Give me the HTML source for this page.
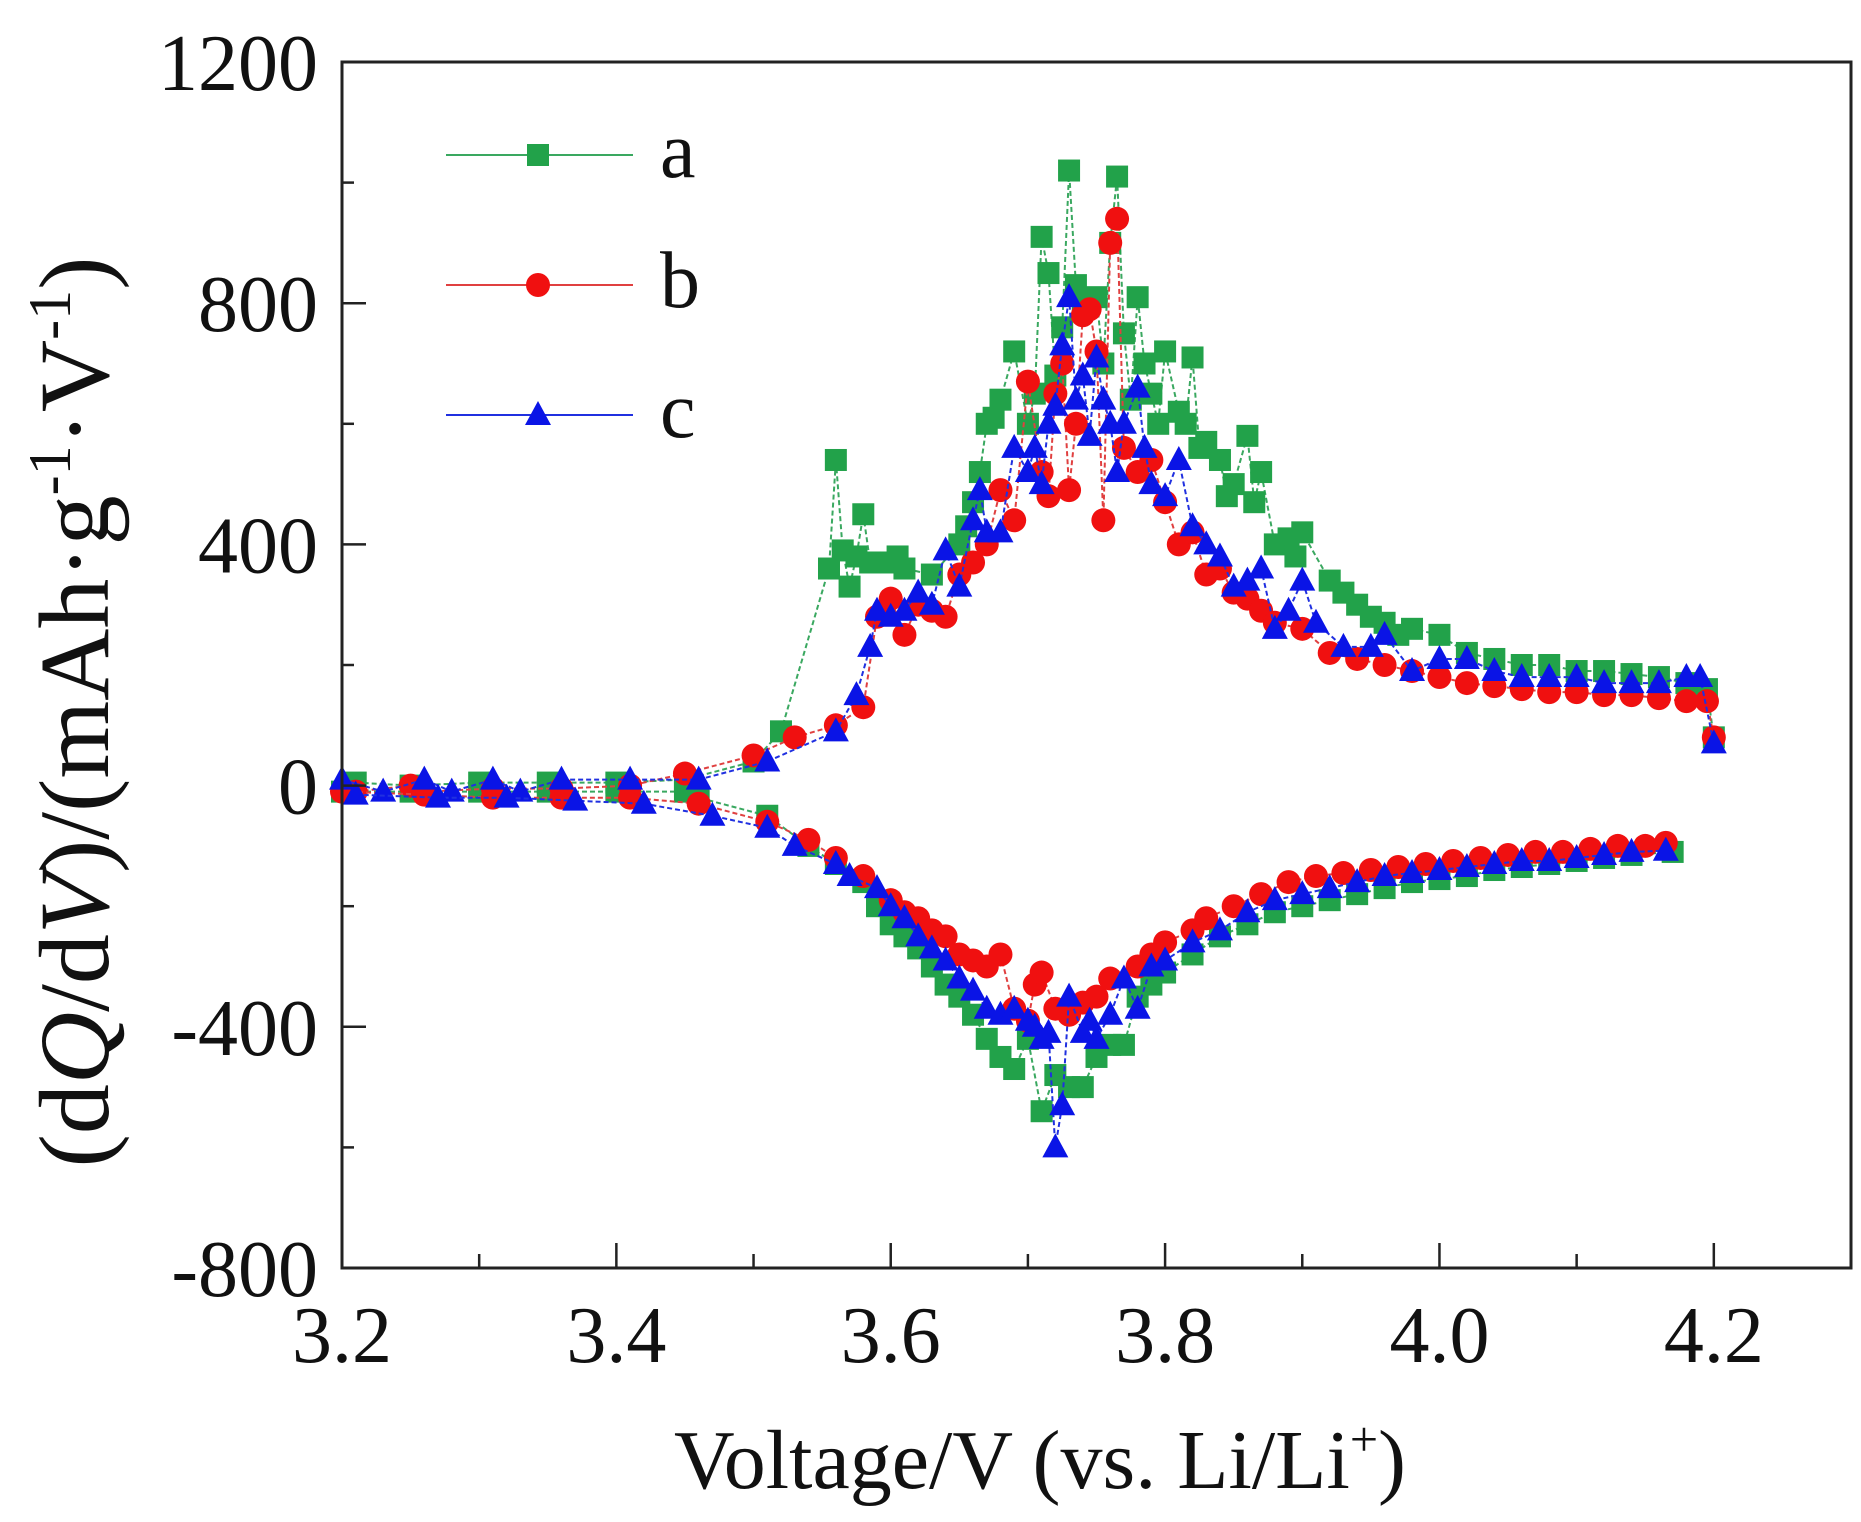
<!DOCTYPE html>
<html><head><meta charset="utf-8"><style>
html,body{margin:0;padding:0;background:#fff;}
svg{display:block;font-family:"Liberation Serif",serif;}
</style></head><body>
<svg id="chart" width="1861" height="1522" viewBox="0 0 1861 1522" xmlns="http://www.w3.org/2000/svg">
<g id="marks"></g>
<g id="axes"></g>
</svg>
<script>
// ---- data ----
const xTicks = [3.2, 3.4, 3.6, 3.8, 4.0, 4.2];
const xTickLabels = ["3.2", "3.4", "3.6", "3.8", "4.0", "4.2"];
const yTicks = [1200, 800, 400, 0, -400, -800];
const yTickLabels = ["1200", "800", "400", "0", "-400", "-800"];

const aChargeV = [3.21,3.25,3.3,3.35,3.4,3.45,3.5,3.52,3.555,3.56,3.565,3.57,3.575,3.58,3.585,3.6,3.605,3.61,3.63,3.65,3.655,3.66,3.665,3.67,3.675,3.68,3.69,3.70,3.705,3.71,3.715,3.72,3.725,3.73,3.735,3.74,3.75,3.755,3.76,3.765,3.77,3.775,3.78,3.785,3.79,3.795,3.80,3.81,3.815,3.82,3.825,3.83,3.84,3.845,3.85,3.86,3.865,3.87,3.88,3.89,3.895,3.90,3.92,3.93,3.94,3.95,3.96,3.97,3.98,4.0,4.02,4.04,4.06,4.08,4.10,4.12,4.14,4.16,4.18,4.195,4.2];
const aChargeQ = [5,0,5,5,5,10,40,90,360,540,390,330,380,450,370,370,380,360,350,400,430,470,520,600,610,640,720,600,650,910,850,680,760,1020,830,800,810,700,900,1010,750,640,810,700,650,600,720,620,600,710,560,570,540,480,500,580,470,520,400,410,380,420,340,320,300,280,270,250,260,250,220,210,200,200,190,190,185,180,170,160,80];

const bChargeV = [3.21,3.25,3.26,3.31,3.36,3.41,3.45,3.5,3.53,3.56,3.58,3.59,3.6,3.61,3.62,3.63,3.64,3.65,3.66,3.67,3.68,3.69,3.70,3.71,3.715,3.72,3.725,3.73,3.735,3.74,3.745,3.75,3.755,3.76,3.765,3.77,3.78,3.79,3.80,3.81,3.82,3.83,3.84,3.85,3.86,3.87,3.88,3.90,3.92,3.94,3.96,3.98,4.0,4.02,4.04,4.06,4.08,4.10,4.12,4.14,4.16,4.18,4.195,4.2];
const bChargeQ = [-10,0,-10,-5,-5,0,20,50,80,100,130,280,310,250,300,290,280,350,370,400,490,440,670,520,480,650,700,490,600,780,790,720,440,900,940,560,520,540,470,400,420,350,360,320,310,290,270,260,220,210,200,190,180,170,165,160,155,155,150,150,145,140,140,80];

const cChargeV = [3.2,3.23,3.26,3.28,3.31,3.33,3.36,3.41,3.46,3.51,3.56,3.575,3.585,3.59,3.6,3.61,3.62,3.63,3.64,3.65,3.66,3.665,3.67,3.68,3.69,3.70,3.705,3.71,3.715,3.72,3.725,3.73,3.735,3.74,3.745,3.75,3.755,3.76,3.765,3.77,3.78,3.785,3.79,3.80,3.81,3.82,3.83,3.84,3.85,3.86,3.87,3.88,3.89,3.90,3.91,3.93,3.95,3.96,3.98,4.0,4.02,4.04,4.06,4.08,4.10,4.12,4.14,4.16,4.18,4.19,4.2];
const cChargeQ = [10,-10,10,-10,10,-10,10,10,10,40,90,150,230,290,280,290,320,300,390,330,440,490,420,420,560,520,560,500,600,630,730,810,640,680,580,710,640,600,520,600,660,560,500,480,540,430,400,380,330,340,360,260,290,340,270,230,230,250,190,210,210,190,180,180,180,170,170,170,180,180,70];

const aDisV = [3.2,3.25,3.3,3.35,3.4,3.45,3.46,3.51,3.54,3.56,3.58,3.59,3.6,3.61,3.62,3.63,3.64,3.65,3.66,3.67,3.68,3.69,3.70,3.71,3.72,3.73,3.74,3.75,3.76,3.77,3.78,3.79,3.80,3.82,3.84,3.86,3.88,3.90,3.92,3.94,3.96,3.98,4.0,4.02,4.04,4.06,4.08,4.10,4.12,4.14,4.17];
const aDisQ = [-10,-10,-10,-10,-10,-10,-20,-50,-100,-130,-160,-200,-230,-250,-270,-300,-330,-350,-380,-420,-450,-470,-420,-540,-480,-500,-500,-450,-430,-430,-350,-330,-310,-280,-250,-230,-210,-200,-190,-180,-170,-160,-155,-150,-140,-135,-130,-125,-120,-115,-110];

const bDisV = [3.2,3.26,3.31,3.36,3.41,3.46,3.51,3.54,3.56,3.58,3.6,3.61,3.62,3.63,3.64,3.65,3.66,3.67,3.68,3.69,3.70,3.705,3.71,3.72,3.73,3.74,3.75,3.76,3.78,3.79,3.80,3.82,3.83,3.85,3.87,3.89,3.91,3.93,3.95,3.97,3.99,4.01,4.03,4.05,4.07,4.09,4.11,4.13,4.15,4.165];
const bDisQ = [-10,-15,-20,-20,-20,-30,-60,-90,-120,-150,-190,-210,-220,-240,-250,-280,-290,-300,-280,-370,-390,-330,-310,-370,-380,-360,-350,-320,-300,-280,-260,-240,-220,-200,-180,-160,-150,-145,-140,-135,-130,-125,-120,-115,-110,-110,-105,-100,-100,-95];

const cDisV = [3.21,3.27,3.32,3.37,3.42,3.47,3.51,3.53,3.56,3.57,3.59,3.60,3.61,3.62,3.63,3.64,3.65,3.66,3.67,3.68,3.69,3.70,3.705,3.71,3.715,3.72,3.725,3.73,3.74,3.745,3.75,3.76,3.77,3.78,3.79,3.80,3.82,3.84,3.86,3.88,3.90,3.92,3.94,3.96,3.98,4.0,4.02,4.04,4.06,4.08,4.10,4.12,4.14,4.165];
const cDisQ = [-15,-20,-20,-25,-30,-50,-70,-100,-130,-150,-170,-200,-220,-250,-270,-290,-320,-340,-370,-380,-370,-390,-400,-420,-410,-600,-530,-350,-410,-390,-420,-380,-320,-370,-300,-290,-260,-240,-210,-190,-180,-170,-160,-150,-145,-140,-135,-130,-125,-125,-120,-115,-110,-108];

const seriesNames = ["a", "b", "c"];

// ---- layout ----
const NS = "http://www.w3.org/2000/svg";
const L = 342, R = 1851, T = 62, B = 1268;
const X0 = 3.2, X1 = 4.3, Y0 = -800, Y1 = 1200;
function sx(v){ return L + (v - X0) / (X1 - X0) * (R - L); }
function sy(v){ return B - (v - Y0) / (Y1 - Y0) * (B - T); }
function mk(tag, attrs, parent){ const e = document.createElementNS(NS, tag); for (const k in attrs) e.setAttribute(k, attrs[k]); parent.appendChild(e); return e; }

const marks = document.getElementById('marks');
const axes = document.getElementById('axes');
const colors = {a:"#22a24a", b:"#f01010", c:"#0a14e6"};
const lineColors = {a:"#3aa860", b:"#e04040", c:"#2030e0"};

function marker(kind, x, y, parent){
  let e;
  if (kind === 'a') e = mk('rect', {x:x-11, y:y-11, width:22, height:22, fill:colors.a}, parent);
  else if (kind === 'b') e = mk('circle', {cx:x, cy:y, r:12, fill:colors.b}, parent);
  else e = mk('polygon', {points:`${x},${y-14} ${x-13},${y+10} ${x+13},${y+10}`, fill:colors.c}, parent);
  return e;
}

function drawSeries(kind, V, Q, label){
  const g = mk('g', {}, marks);
  
  
  const pts = V.map((v,i) => sx(v).toFixed(1) + ',' + sy(Q[i]).toFixed(1)).join(' ');
  const pl = mk('polyline', {points:pts, fill:'none', stroke:lineColors[kind], 'stroke-width':2, 'stroke-dasharray':'5,3'}, g);
  
  
  V.forEach((v,i) => {
    const m = marker(kind, sx(v), sy(Q[i]), g);
    
    
  });
}
drawSeries('a', aChargeV, aChargeQ, 'charge');
drawSeries('a', aDisV, aDisQ, 'discharge');
drawSeries('b', bChargeV, bChargeQ, 'charge');
drawSeries('b', bDisV, bDisQ, 'discharge');
drawSeries('c', cChargeV, cChargeQ, 'charge');
drawSeries('c', cDisV, cDisQ, 'discharge');

// frame
const frame = mk('rect', {x:L, y:T, width:R-L, height:B-T, fill:'none', stroke:'#222', 'stroke-width':3}, axes);



// x ticks
for (let v = 3.3; v < 4.3; v += 0.2) {
  const t = mk('line', {x1:sx(v), x2:sx(v), y1:B, y2:B-14, stroke:'#222', 'stroke-width':2.5}, axes);
  
  
}
xTicks.forEach((v,i) => {
  const t = mk('line', {x1:sx(v), x2:sx(v), y1:B, y2:B-25, stroke:'#222', 'stroke-width':2.5}, axes);
  
  
  const tx = mk('text', {x:sx(v), y:1362, 'text-anchor':'middle', 'font-size':80, fill:'#111'}, axes);
  tx.textContent = xTickLabels[i];
  
  
});
// y ticks
for (let v = -600; v < 1200; v += 400) {
  const t = mk('line', {x1:L, x2:L+12, y1:sy(v), y2:sy(v), stroke:'#222', 'stroke-width':2.5}, axes);
  
  
}
yTicks.forEach((v,i) => {
  const t = mk('line', {x1:L, x2:L+24, y1:sy(v), y2:sy(v), stroke:'#222', 'stroke-width':2.5}, axes);
  
  
  const tx = mk('text', {x:318, y:sy(v)+28, 'text-anchor':'end', 'font-size':80, fill:'#111'}, axes);
  tx.textContent = yTickLabels[i];
  
  
});

// axis titles
const xt = mk('text', {x:1040, y:1488, 'text-anchor':'middle', 'font-size':84, fill:'#111'}, axes);


xt.innerHTML = 'Voltage/V (vs. Li/Li<tspan dy="-32" font-size="50">+</tspan><tspan dy="32">)</tspan>';

const yt = mk('text', {x:0, y:0, 'text-anchor':'middle', 'font-size':100, fill:'#111', transform:'translate(108,712) rotate(-90)'}, axes);


yt.innerHTML = '(d<tspan font-style="italic">Q</tspan>/d<tspan font-style="italic">V</tspan>)/(mAh·g<tspan dy="-38" font-size="60">-1</tspan><tspan dy="38">·V</tspan><tspan dy="-38" font-size="60">-1</tspan><tspan dy="38">)</tspan>';

// legend
const legY = [155, 285, 415];
seriesNames.forEach((k,i) => {
  const g = mk('g', {}, axes);
  
  
  mk('line', {x1:446, x2:633, y1:legY[i], y2:legY[i], stroke:lineColors[k], 'stroke-width':2}, g);
  marker(k, 538, legY[i], g);
  const t = mk('text', {x:660, y:legY[i]+22, 'font-size':80, fill:'#111'}, g);
  t.textContent = k;
});
</script>
</body></html>
